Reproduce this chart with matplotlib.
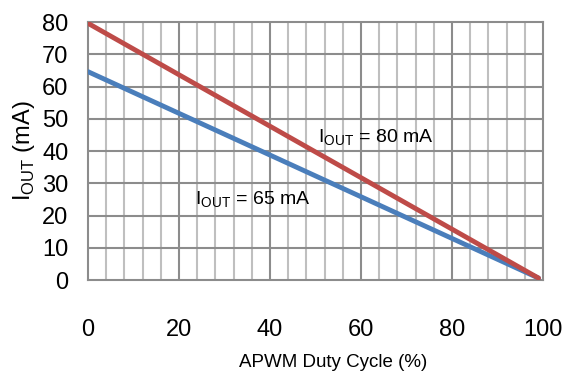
import numpy as np
import matplotlib.pyplot as plt

plt.rcParams['font.family'] = ['Liberation Sans', 'DejaVu Sans']

# duty cycle (%) vs output current (mA)
duty = [0, 99]
iout_80 = [79.6, 0.6]
iout_65 = [64.6, 0.6]

x_ticks = [0, 20, 40, 60, 80, 100]
y_ticks = [0, 10, 20, 30, 40, 50, 60, 70, 80]

fig = plt.figure(figsize=(5.76, 3.73), dpi=100)
ax = fig.add_axes([0.1528, 0.2493, 0.79, 0.6917])

# grid: light minor verticals every 4, darker majors
for xv in np.arange(4, 100, 4):
    col = "#8c8c8c" if xv % 20 == 0 else "#bfbfbf"
    ax.axvline(xv, color=col, lw=1.5, zorder=1)
for yv in y_ticks[1:-1]:
    ax.axhline(yv, color="#8c8c8c", lw=1.5, zorder=1)

ax.plot(duty, iout_65, color="#4a7ebb", lw=3.5, solid_capstyle="round", zorder=3)
ax.plot(duty, iout_80, color="#be4b48", lw=3.5, solid_capstyle="round", zorder=3)

ax.text(50.5, 44, r"I$_{\mathregular{OUT}}$ = 80 mA", fontsize=14, va="center", ha="left")
ax.text(23.5, 24.8, r"I$_{\mathregular{OUT}}$ = 65 mA", fontsize=14, va="center", ha="left")

ax.set_xlim(0, 100)
ax.set_ylim(0, 80)
ax.set_xticks(x_ticks)
ax.set_yticks(y_ticks)
ax.tick_params(axis="x", length=0, pad=28, labelsize=17)
ax.tick_params(axis="y", length=0, pad=14, labelsize=17)
for s in ax.spines.values():
    s.set_color("#8c8c8c")
    s.set_linewidth(1.5)

fig.text(0.578, 0.027, "APWM Duty Cycle (%)", fontsize=13.5, ha="center", va="center")
ax.set_ylabel(r"I$_{\mathregular{OUT}}$ (mA)", fontsize=17, labelpad=4)

fig.savefig("out.png", dpi=100)
